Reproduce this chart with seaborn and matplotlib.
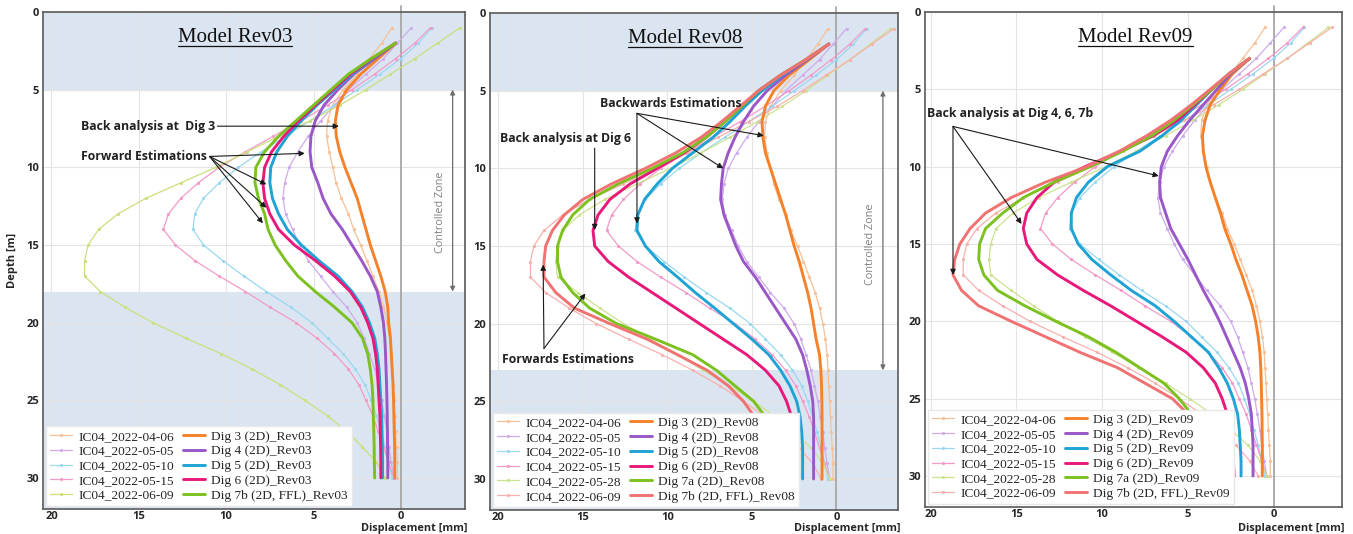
import pandas as pd
import seaborn as sns
import matplotlib.pyplot as plt

# Measured inclinometer profiles (IC04), displacement in mm at depth 1..30 m
MEAS_DEPTH = list(range(1, 31))
IC04_0406 = [0.5, 1.1, 1.8, 2.5, 3.3, 3.9, 4.2, 4.25, 4.1, 3.9, 3.7, 3.4, 3.0, 2.7, 2.3,
             1.95, 1.6, 1.25, 1.0, 0.8, 0.65, 0.55, 0.5, 0.45, 0.4, 0.35, 0.3, 0.25, 0.2, 0.2]
IC04_0505 = [-0.6, 0.2, 1.0, 2.0, 3.0, 3.8, 4.6, 5.3, 5.9, 6.4, 6.65, 6.75, 6.6, 6.2, 5.8,
             5.3, 4.6, 3.9, 3.1, 2.5, 2.1, 1.8, 1.5, 1.3, 1.1, 0.95, 0.8, 0.7, 0.55, 0.4]
IC04_0510 = [-1.8, -1.0, 0.0, 1.2, 2.5, 3.8, 5.2, 6.6, 8.0, 9.3, 10.4, 11.3, 11.8, 11.9, 11.3,
             10.2, 9.0, 7.7, 6.3, 5.1, 4.2, 3.3, 2.6, 2.05, 1.7, 1.4, 1.15, 0.9, 0.7, 0.5]
IC04_0515 = [-1.7, -0.8, 0.3, 1.5, 2.8, 4.2, 5.7, 7.3, 8.9, 10.4, 11.6, 12.6, 13.3, 13.6, 12.9,
             11.8, 10.4, 8.9, 7.5, 6.0, 4.8, 3.8, 3.0, 2.4, 2.0, 1.6, 1.3, 1.0, 0.7, 0.4]
IC04_0528 = [-3.2, -2.0, -0.8, 0.5, 1.8, 3.2, 4.7, 6.3, 8.0, 9.8, 11.8, 13.7, 15.2, 16.2, 16.5,
             16.6, 16.5, 15.3, 14.0, 12.6, 11.0, 9.4, 7.9, 6.3, 4.9, 3.6, 2.5, 1.5, 0.8, 0.4]
IC04_0609 = [-3.4, -2.1, -0.8, 0.6, 2.0, 3.5, 5.2, 7.0, 8.8, 10.6, 12.6, 14.6, 16.2, 17.3, 17.9,
             18.1, 18.1, 17.2, 15.8, 14.2, 12.3, 10.3, 8.5, 6.9, 5.5, 4.2, 3.1, 2.2, 1.4, 0.9]

# Model predictions
DEPTH_FROM_2 = list(range(2, 31))
DEPTH_FROM_3 = list(range(3, 31))

DIG3_R03 = [0.3, 1.3, 2.3, 3.1, 3.6, 3.75, 3.7, 3.5, 3.2, 2.85, 2.5, 2.25, 2.0, 1.75, 1.45,
            1.15, 0.9, 0.75, 0.7, 0.6, 0.55, 0.5, 0.45, 0.42, 0.4, 0.38, 0.36, 0.35, 0.35]
DIG4_R03 = [0.3, 1.5, 2.7, 3.6, 4.4, 4.9, 5.15, 5.2, 5.1, 4.75, 4.45, 4.0, 3.35, 2.8, 2.25,
            1.75, 1.35, 1.15, 1.0, 0.92, 0.88, 0.85, 0.82, 0.8, 0.78, 0.77, 0.76, 0.75, 0.75]
DIG5_R03 = [0.3, 1.6, 2.8, 3.8, 4.8, 5.7, 6.5, 7.1, 7.45, 7.5, 7.35, 7.0, 6.5, 5.7, 4.7,
            3.6, 2.8, 2.2, 1.8, 1.5, 1.35, 1.25, 1.2, 1.15, 1.1, 1.08, 1.06, 1.05, 1.05]
DIG6_R03 = [0.3, 1.65, 2.9, 3.9, 4.9, 5.85, 6.7, 7.4, 7.8, 7.9, 7.8, 7.5, 7.0, 6.1, 4.9,
            3.8, 2.9, 2.3, 1.9, 1.6, 1.45, 1.35, 1.3, 1.25, 1.2, 1.18, 1.16, 1.15, 1.15]
DIG7B_R03 = [0.3, 1.7, 3.0, 4.0, 5.0, 6.0, 7.0, 7.8, 8.3, 8.35, 8.15, 7.8, 7.6, 7.2, 6.6,
             5.9, 4.9, 3.8, 2.8, 2.2, 1.9, 1.75, 1.65, 1.6, 1.58, 1.55, 1.53, 1.52, 1.5]

DIG3_R08 = [0.45, 1.6, 2.8, 3.7, 4.2, 4.4, 4.35, 4.2, 3.9, 3.6, 3.3, 3.0, 2.75, 2.5, 2.2,
            1.95, 1.7, 1.5, 1.35, 1.2, 1.0, 0.92, 0.88, 0.86, 0.85, 0.85, 0.85, 0.85, 0.85]
DIG4_R08 = [0.45, 1.7, 3.0, 4.1, 4.9, 5.5, 6.0, 6.4, 6.7, 6.8, 6.85, 6.65, 6.3, 5.95, 5.5,
            4.8, 4.2, 3.6, 3.0, 2.4, 2.0, 1.75, 1.55, 1.4, 1.35, 1.35, 1.35, 1.35, 1.35]
DIG5_R08 = [0.45, 1.8, 3.2, 4.4, 5.4, 6.3, 7.3, 8.5, 9.7, 10.6, 11.35, 11.75, 11.8, 11.3, 10.5,
            9.4, 8.35, 7.2, 6.1, 5.0, 4.0, 3.3, 2.75, 2.35, 2.15, 2.05, 2.0, 2.0, 2.0]
DIG6_R08 = [0.45, 1.8, 3.3, 4.6, 5.6, 6.6, 7.7, 9.0, 10.6, 12.2, 13.4, 14.1, 14.4, 14.3, 13.5,
            12.3, 10.9, 9.5, 8.1, 6.7, 5.3, 4.2, 3.4, 2.95, 2.65, 2.5, 2.4, 2.35, 2.35]
DIG7A_R08 = [0.45, 1.8, 3.3, 4.6, 5.6, 6.6, 7.7, 9.1, 10.9, 12.9, 14.6, 15.6, 16.2, 16.5, 16.5,
             16.3, 15.6, 14.6, 13.0, 10.7, 8.5, 7.1, 6.0, 4.9, 4.2, 3.7, 3.45, 3.35, 3.3]
DIG7B_R08 = [0.45, 1.8, 3.3, 4.6, 5.7, 6.8, 8.0, 9.5, 11.3, 13.3, 15.0, 16.1, 16.8, 17.2, 17.3,
             17.3, 16.6, 15.5, 13.4, 11.2, 9.4, 7.65, 6.4, 5.5, 4.85, 4.3, 3.95, 3.8, 3.7]

DIG3_R09 = [1.4, 2.4, 3.1, 3.7, 4.0, 4.15, 4.1, 3.95, 3.7, 3.4, 3.1, 2.85, 2.5, 2.2,
            1.85, 1.55, 1.25, 1.05, 0.9, 0.8, 0.75, 0.72, 0.7, 0.68, 0.67, 0.66, 0.66, 0.66]
DIG4_R09 = [1.4, 2.5, 3.3, 4.1, 4.9, 5.6, 6.2, 6.55, 6.65, 6.6, 6.3, 6.0, 5.5, 5.0,
            4.55, 4.1, 3.6, 3.15, 2.75, 2.35, 1.95, 1.65, 1.45, 1.3, 1.25, 1.2, 1.2, 1.2]
DIG5_R09 = [1.4, 2.6, 3.6, 4.5, 5.4, 6.5, 7.8, 9.7, 10.8, 11.5, 11.8, 11.8, 11.4, 10.6,
            9.5, 8.3, 6.9, 5.8, 4.8, 3.8, 3.2, 2.7, 2.35, 2.1, 2.0, 1.95, 1.9, 1.9]
DIG6_R09 = [1.4, 2.6, 3.6, 4.6, 5.6, 7.0, 8.9, 11.0, 12.8, 13.8, 14.4, 14.6, 14.4, 13.8,
            12.6, 11.1, 9.5, 8.0, 6.5, 5.1, 4.1, 3.4, 3.0, 2.7, 2.5, 2.4, 2.35, 2.3]
DIG7A_R09 = [1.4, 2.6, 3.6, 4.7, 5.8, 7.1, 8.8, 10.7, 12.8, 14.6, 15.8, 16.8, 17.15, 17.2,
             16.9, 16.1, 14.5, 12.7, 10.8, 9.2, 7.8, 6.4, 5.5, 4.8, 4.1, 3.7, 3.45, 3.3]
DIG7B_R09 = [1.4, 2.6, 3.7, 4.8, 6.0, 7.4, 9.0, 10.9, 13.3, 15.3, 16.8, 17.7, 18.3, 18.6,
             18.7, 18.2, 17.2, 15.3, 13.3, 11.3, 9.1, 7.5, 5.9, 5.0, 4.4, 4.0, 3.8, 3.7]

# colours
C_MEAS = {'04-06': '#f7c096', '05-05': '#d0abec', '05-10': '#9ad8f2', '05-15': '#f39ac8',
          '05-28': '#cbe38e', '06-09': '#f7b0ae', '06-09_r03': '#c9e07c'}
C_DIG3, C_DIG4, C_DIG5 = '#f5822a', '#9a57c8', '#1fa3d4'
C_DIG6, C_DIG7A, C_DIG7B = '#e8197a', '#7cc11f', '#f07272'
BAND = '#dbe5f1'
SANS = 'Open Sans'
SERIF = 'Liberation Serif'

sns.set_style('white')
plt.rcParams['font.family'] = [SANS, 'DejaVu Sans']


def add_curve(ax, depth, disp, color, label, thick):
    df = pd.DataFrame({'depth': depth, 'disp': disp})
    if thick:
        sns.lineplot(data=df, x='disp', y='depth', ax=ax, color=color, linewidth=2.1,
                     sort=False, estimator=None, legend=False, zorder=3)
    else:
        sns.lineplot(data=df, x='disp', y='depth', ax=ax, color=color, linewidth=0.9,
                     marker='o', markersize=2.3, markeredgewidth=0,
                     sort=False, estimator=None, legend=False, zorder=2)
    line = ax.lines[-1]
    line.set_label(label)
    return line


def arrow(ax, start, end):
    ax.annotate('', xy=end, xytext=start,
                arrowprops=dict(arrowstyle='-|>', color='#1a1a1a', lw=0.8,
                                mutation_scale=8, shrinkA=0, shrinkB=0))


def note(ax, x, y, txt, ha='left'):
    ax.text(x, y, txt, ha=ha, va='center', fontsize=8.8, fontweight='bold', color='#222222')


def controlled_zone(ax, x_arrow, x_text, top, bottom, y_text):
    ax.annotate('', xy=(x_arrow, top), xytext=(x_arrow, bottom),
                arrowprops=dict(arrowstyle='<|-|>', color='#6d6d6d', lw=0.9,
                                mutation_scale=7, shrinkA=0, shrinkB=0))
    ax.text(x_text, y_text, 'Controlled Zone', rotation=90, ha='center', va='center',
            fontsize=7.8, color='#808080')


def setup_panel(ax, bands):
    for b0, b1 in bands:
        ax.axhspan(b0, b1, color=BAND, zorder=0, lw=0)
    ax.axvline(0, color='#a8a8a8', lw=1.3, ymax=1.012, clip_on=False, zorder=1)


def finish_panel(ax, xlim, ylim, ylabel=''):
    ax.set_xlim(*xlim)
    ax.set_ylim(*ylim)
    ax.set_xticks([20, 15, 10, 5, 0])
    ax.set_yticks(range(0, 31, 5))
    ax.set_axisbelow(True)
    ax.grid(True, color='#e4e4e4', lw=0.8)
    ax.tick_params(length=0, labelsize=8)
    ax.tick_params(axis='x', pad=1.5)
    ax.tick_params(axis='y', pad=3)
    for lbl in ax.get_xticklabels() + ax.get_yticklabels():
        lbl.set_fontweight('bold')
    for sp in ax.spines.values():
        sp.set_color('#5a5a5a')
        sp.set_linewidth(1.2)
    ax.set_xlabel('Displacement [mm]', fontsize=7.8, fontweight='bold')
    ax.xaxis.label.set_horizontalalignment('right')
    ax.xaxis.label.set_verticalalignment('center')
    pos = ax.get_position()
    ax.xaxis.set_label_coords(1.005, (1 - 528.5 / 534 - pos.y0) / pos.height)
    ax.set_ylabel(ylabel, fontsize=8, fontweight='bold', labelpad=6)


def legend(ax, meas_lines, model_lines):
    ax.legend(handles=meas_lines + model_lines, ncol=2, loc='lower left',
              prop={'family': SERIF, 'size': 9.6}, frameon=True, framealpha=1,
              facecolor='white', edgecolor='#e8e8e8', fancybox=False,
              borderpad=0.3, labelspacing=0.18, handlelength=1.6, handletextpad=0.5,
              columnspacing=0.7, borderaxespad=0.25)


fig = plt.figure(figsize=(13.53, 5.34), dpi=100)
ax1 = fig.add_axes([0.0318, 0.0468, 0.3119, 0.9307])
ax2 = fig.add_axes([0.3622, 0.0449, 0.3016, 0.9307])
ax3 = fig.add_axes([0.6837, 0.0506, 0.3082, 0.927])

# ---- Panel 1: Model Rev03
setup_panel(ax1, [(0, 5), (18, 32)])
m1 = [add_curve(ax1, MEAS_DEPTH, IC04_0406, C_MEAS['04-06'], 'IC04_2022-04-06', False),
      add_curve(ax1, MEAS_DEPTH, IC04_0505, C_MEAS['05-05'], 'IC04_2022-05-05', False),
      add_curve(ax1, MEAS_DEPTH, IC04_0510, C_MEAS['05-10'], 'IC04_2022-05-10', False),
      add_curve(ax1, MEAS_DEPTH, IC04_0515, C_MEAS['05-15'], 'IC04_2022-05-15', False),
      add_curve(ax1, MEAS_DEPTH, IC04_0609, C_MEAS['06-09_r03'], 'IC04_2022-06-09', False)]
d1 = [add_curve(ax1, DEPTH_FROM_2, DIG3_R03, C_DIG3, 'Dig 3 (2D)_Rev03', True),
      add_curve(ax1, DEPTH_FROM_2, DIG4_R03, C_DIG4, 'Dig 4 (2D)_Rev03', True),
      add_curve(ax1, DEPTH_FROM_2, DIG5_R03, C_DIG5, 'Dig 5 (2D)_Rev03', True),
      add_curve(ax1, DEPTH_FROM_2, DIG6_R03, C_DIG6, 'Dig 6 (2D)_Rev03', True),
      add_curve(ax1, DEPTH_FROM_2, DIG7B_R03, C_DIG7A, 'Dig 7b (2D, FFL)_Rev03', True)]
legend(ax1, m1, d1)
finish_panel(ax1, (20.48, -3.67), (32, 0), ylabel='Depth [m]')
note(ax1, 18.3, 7.35, 'Back analysis at  Dig 3')
arrow(ax1, (10.5, 7.35), (3.55, 7.35))
note(ax1, 18.3, 9.3, 'Forward Estimations')
for tgt in [(5.5, 9.1), (7.7, 11.1), (7.7, 12.6), (7.9, 13.6)]:
    arrow(ax1, (10.95, 9.3), tgt)
controlled_zone(ax1, -2.96, -2.25, 5, 18, 12.9)

# ---- Panel 2: Model Rev08
setup_panel(ax2, [(0, 5), (23, 32)])
m2 = [add_curve(ax2, MEAS_DEPTH, IC04_0406, C_MEAS['04-06'], 'IC04_2022-04-06', False),
      add_curve(ax2, MEAS_DEPTH, IC04_0505, C_MEAS['05-05'], 'IC04_2022-05-05', False),
      add_curve(ax2, MEAS_DEPTH, IC04_0510, C_MEAS['05-10'], 'IC04_2022-05-10', False),
      add_curve(ax2, MEAS_DEPTH, IC04_0515, C_MEAS['05-15'], 'IC04_2022-05-15', False),
      add_curve(ax2, MEAS_DEPTH, IC04_0528, C_MEAS['05-28'], 'IC04_2022-05-28', False),
      add_curve(ax2, MEAS_DEPTH, IC04_0609, C_MEAS['06-09'], 'IC04_2022-06-09', False)]
d2 = [add_curve(ax2, DEPTH_FROM_2, DIG3_R08, C_DIG3, 'Dig 3 (2D)_Rev08', True),
      add_curve(ax2, DEPTH_FROM_2, DIG4_R08, C_DIG4, 'Dig 4 (2D)_Rev08', True),
      add_curve(ax2, DEPTH_FROM_2, DIG5_R08, C_DIG5, 'Dig 5 (2D)_Rev08', True),
      add_curve(ax2, DEPTH_FROM_2, DIG6_R08, C_DIG6, 'Dig 6 (2D)_Rev08', True),
      add_curve(ax2, DEPTH_FROM_2, DIG7A_R08, C_DIG7A, 'Dig 7a (2D)_Rev08', True),
      add_curve(ax2, DEPTH_FROM_2, DIG7B_R08, C_DIG7B, 'Dig 7b (2D, FFL)_Rev08', True)]
legend(ax2, m2, d2)
finish_panel(ax2, (20.49, -3.65), (32, 0))
note(ax2, 9.8, 5.85, 'Backwards Estimations', ha='center')
for tgt in [(4.3, 7.9), (6.7, 10.0), (11.8, 13.55)]:
    arrow(ax2, (11.8, 6.46), tgt)
note(ax2, 19.9, 8.1, 'Back analysis at Dig 6')
arrow(ax2, (14.3, 8.7), (14.3, 13.97))
note(ax2, 19.8, 22.3, 'Forwards Estimations')
arrow(ax2, (17.3, 21.6), (17.35, 16.2))
arrow(ax2, (17.3, 21.6), (14.85, 18.06))
controlled_zone(ax2, -2.75, -2.0, 5, 23, 14.9)

# ---- Panel 3: Model Rev09
setup_panel(ax3, [])
m3 = [add_curve(ax3, MEAS_DEPTH, IC04_0406, C_MEAS['04-06'], 'IC04_2022-04-06', False),
      add_curve(ax3, MEAS_DEPTH, IC04_0505, C_MEAS['05-05'], 'IC04_2022-05-05', False),
      add_curve(ax3, MEAS_DEPTH, IC04_0510, C_MEAS['05-10'], 'IC04_2022-05-10', False),
      add_curve(ax3, MEAS_DEPTH, IC04_0515, C_MEAS['05-15'], 'IC04_2022-05-15', False),
      add_curve(ax3, MEAS_DEPTH, IC04_0528, C_MEAS['05-28'], 'IC04_2022-05-28', False),
      add_curve(ax3, MEAS_DEPTH, IC04_0609, C_MEAS['06-09'], 'IC04_2022-06-09', False)]
d3 = [add_curve(ax3, DEPTH_FROM_3, DIG3_R09, C_DIG3, 'Dig 3 (2D)_Rev09', True),
      add_curve(ax3, DEPTH_FROM_3, DIG4_R09, C_DIG4, 'Dig 4 (2D)_Rev09', True),
      add_curve(ax3, DEPTH_FROM_3, DIG5_R09, C_DIG5, 'Dig 5 (2D)_Rev09', True),
      add_curve(ax3, DEPTH_FROM_3, DIG6_R09, C_DIG6, 'Dig 6 (2D)_Rev09', True),
      add_curve(ax3, DEPTH_FROM_3, DIG7A_R09, C_DIG7A, 'Dig 7a (2D)_Rev09', True),
      add_curve(ax3, DEPTH_FROM_3, DIG7B_R09, C_DIG7B, 'Dig 7b (2D, FFL)_Rev09', True)]
legend(ax3, m3, d3)
finish_panel(ax3, (20.33, -3.99), (32, 0.25))
note(ax3, 20.2, 6.55, 'Back analysis at Dig 4, 6, 7b')
for tgt in [(6.7, 10.6), (14.7, 13.7), (18.7, 17.0)]:
    arrow(ax3, (18.7, 7.4), tgt)

# titles with underline
titles = []
for ax, txt, xc in [(ax1, 'Model Rev03', 0.455), (ax2, 'Model Rev08', 0.478), (ax3, 'Model Rev09', 0.505)]:
    t = ax.text(xc, 0.948, txt, transform=ax.transAxes, ha='center', va='center',
                family=SERIF, fontsize=15, color='#111111', zorder=6)
    titles.append((ax, t))

fig.canvas.draw()
renderer = fig.canvas.get_renderer()
for ax, t in titles:
    bb = t.get_window_extent(renderer)
    inv = ax.transAxes.inverted()
    (x0, y0), (x1, y1) = inv.transform([(bb.x0, bb.y0 + 1.5), (bb.x1, bb.y1)])
    ax.plot([x0, x1], [y0, y0], transform=ax.transAxes, color='#111111', lw=0.9, clip_on=False)

fig.savefig('out.png', dpi=100)
